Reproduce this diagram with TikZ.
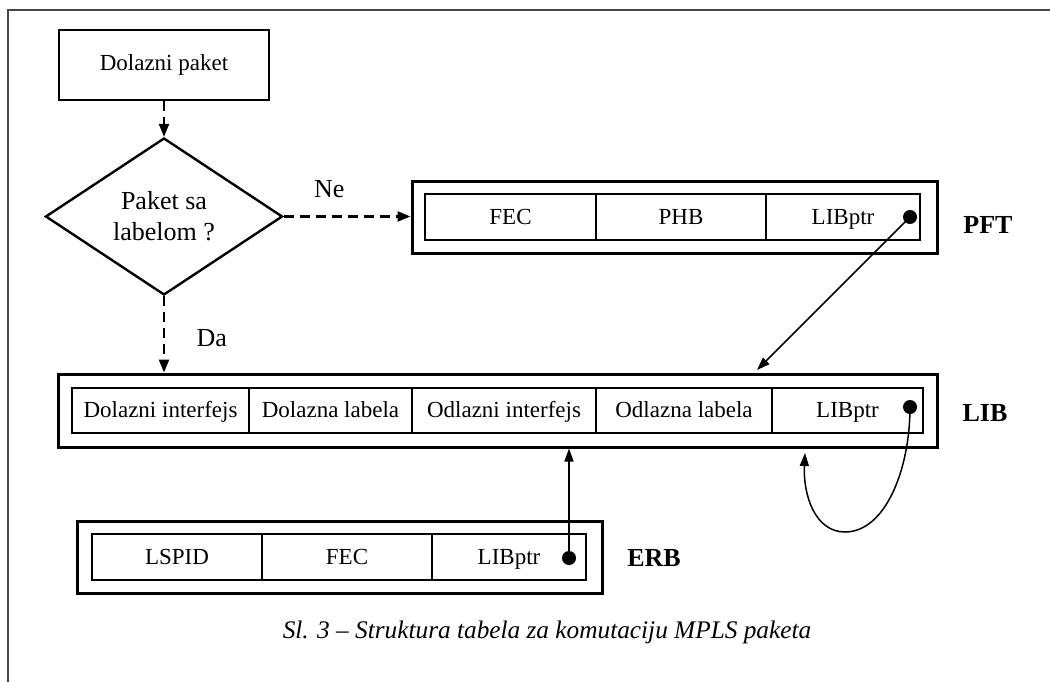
\documentclass[tikz,border=0pt]{standalone}
\usepackage{fontspec}
\setmainfont{Liberation Serif}
\usetikzlibrary{arrows.meta,shapes.geometric,calc}

\tikzset{
  frameline/.style={draw=black!72, line width=2.2pt},
  cell/.style={draw, line width=1.6pt, inner sep=0pt, minimum height=46pt,
    text height=19pt, text depth=5pt,
    font=\fontsize{23}{27}\selectfont},
  outerbox/.style={draw, line width=3pt, inner sep=0pt},
  startbox/.style={draw, line width=2.4pt, inner sep=0pt, minimum width=210pt,
    minimum height=70pt, font=\fontsize{23}{27}\selectfont},
  decision/.style={draw, diamond, line width=2.4pt, inner sep=0pt,
    minimum width=237pt, minimum height=157pt, align=center,
    font=\fontsize{26}{31}\selectfont},
  flowarrow/.style={line width=2.4pt, dash pattern=on 10pt off 6pt,
    -{Triangle[length=13pt,width=10pt]}},
  ptrarrow/.style={line width=1.5pt, -{Triangle[length=13pt,width=9pt]}},
  ptrdot/.style={circle, fill, inner sep=0pt, minimum size=14pt},
  tablename/.style={font=\fontsize{26}{30}\selectfont\bfseries},
  branchlabel/.style={font=\fontsize{26}{30}\selectfont},
}

\begin{document}
\begin{tikzpicture}[x=1pt,y=-1pt]
\useasboundingbox (0,0) rectangle (1050,682);

% page frame (top and left edges)
\draw[frameline] (1050,10) -- (8,10) -- (8,682);

% flowchart start and decision
\node[startbox] (dp) at (164,65) {Dolazni paket};
\node[decision] (dec) at (164,216.5) {Paket sa\\labelom ?};

% PFT table
\node[outerbox, minimum width=525pt, minimum height=71pt] (pft) at (674.5,217.5) {};
\node[cell, minimum width=171pt] (pft1) at (510.5,217) {FEC};
\node[cell, minimum width=170pt] (pft2) at (681,217) {PHB};
\node[cell, minimum width=154pt] (pft3) at (843,217) {LIBptr};
\node[ptrdot] (pftdot) at (910,217) {};
\node[tablename] (pftname) at (988,225) {PFT};

% LIB table
\node[outerbox, minimum width=879pt, minimum height=73pt] (lib) at (497.5,410.5) {};
\node[cell, minimum width=177pt, minimum height=45pt] (lib1) at (160.5,410.5) {Dolazni interfejs};
\node[cell, minimum width=163pt, minimum height=45pt] (lib2) at (330.5,410.5) {Dolazna labela};
\node[cell, minimum width=184pt, minimum height=45pt] (lib3) at (504,410.5) {Odlazni interfejs};
\node[cell, minimum width=176pt, minimum height=45pt] (lib4) at (684,410.5) {Odlazna labela};
\node[cell, minimum width=151pt, minimum height=45pt] (lib5) at (847.5,410.5) {LIBptr};
\node[ptrdot] (libdot) at (910,407) {};
\node[tablename] (libname) at (985,413) {LIB};

% ERB table
\node[outerbox, minimum width=525pt, minimum height=72pt] (erb) at (339.5,557) {};
\node[cell, minimum width=170pt] (erb1) at (177,557) {LSPID};
\node[cell, minimum width=170pt] (erb2) at (347,557) {FEC};
\node[cell, minimum width=154pt] (erb3) at (509,557) {LIBptr};
\node[ptrdot] (erbdot) at (569,558) {};
\node[tablename] (erbname) at (654,558) {ERB};

% flowchart connectors
\draw[flowarrow] (dp.south) -- (dec.north);
\draw[flowarrow] (dec.east) -- (dec.east -| pft.west)
  node[branchlabel, pos=0.36, above=14pt] (ne) {Ne};
\draw[flowarrow] (dec.south) -- (dec.south |- lib.north)
  node[branchlabel, pos=0.55, right=28pt] (da) {Da};

% pointers
\coordinate (libin) at (757,370);
\coordinate (loopend) at (805,453);
\draw[ptrarrow] (pftdot.center) -- (libin);
\draw[ptrarrow] (erbdot.center) -- (erbdot.center |- lib.south);
\draw[ptrarrow] (libdot.center) .. controls (910,470) and (885,532) .. (845,532)
  .. controls (815,532) and (803,495) .. (loopend);

% caption
\node[font=\fontsize{25.3}{30}\selectfont\itshape] (caption) at (547,632)
  {Sl. 3 – Struktura tabela za komutaciju MPLS paketa};
\end{tikzpicture}
\end{document}
